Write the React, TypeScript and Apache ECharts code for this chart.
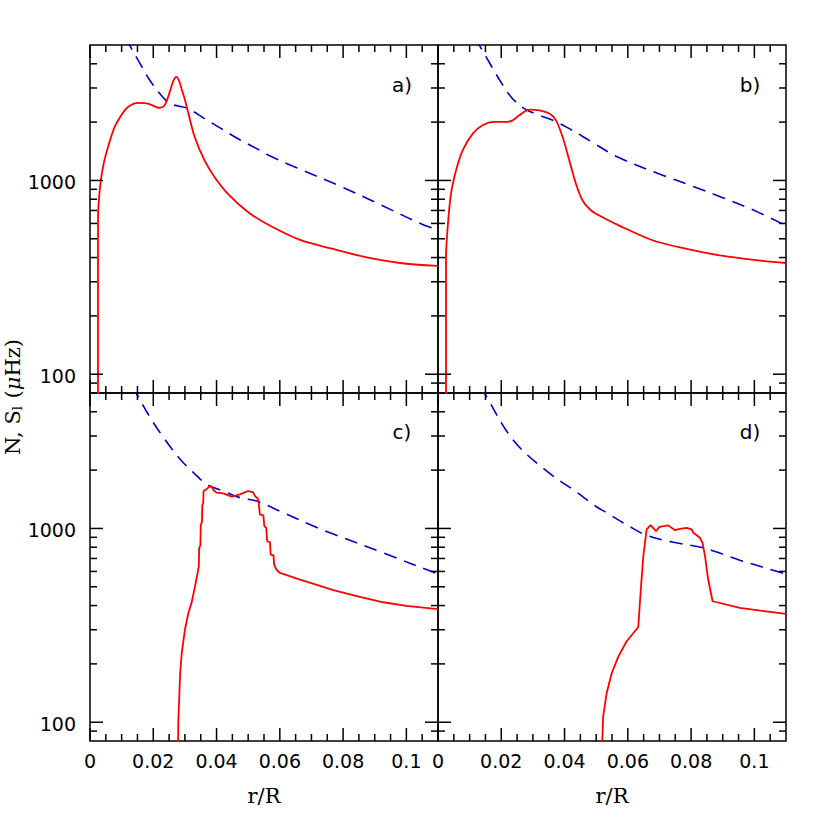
import React, { useEffect, useRef } from 'react';
import * as echarts from 'echarts';

// axis ranges, ticks and tick labels
const X_MIN = 0;
const X_MAX = 0.11;
const Y_MIN = 80;
const Y_MAX = 5000;
const X_TICKS_MAJOR = [0, 0.02, 0.04, 0.06, 0.08, 0.1];
const X_TICKS_MINOR = [0.005, 0.01, 0.015, 0.025, 0.03, 0.035, 0.045, 0.05, 0.055, 0.065, 0.07, 0.075, 0.085, 0.09, 0.095, 0.105];
const Y_TICKS_MAJOR = [100, 1000];
const Y_TICKS_MINOR = [90, 200, 300, 400, 500, 600, 700, 800, 900, 2000, 3000, 4000];
const X_LABELS = [0, 0.02, 0.04, 0.06, 0.08, 0.1];
const Y_LABELS = [100, 1000];
const PANEL_LABELS = ['a)', 'b)', 'c)', 'd)'];

// Panel a: N (solid red) and S_l (dashed blue), [r/R, muHz]
const N_A = [
  [0.00253, 10], [0.00253, 621], [0.00306, 888], [0.0041, 1172], [0.00569, 1486], [0.0078, 1888],
  [0.0099, 2170], [0.012, 2394], [0.0152, 2512], [0.0183, 2494], [0.022, 2366], [0.0236, 2443],
  [0.0247, 2700], [0.0256, 3000], [0.0264, 3280], [0.0273, 3420], [0.0282, 3250], [0.029, 2950],
  [0.0299, 2650], [0.031, 2255], [0.0331, 1675], [0.0362, 1269], [0.0394, 1040], [0.0436, 853],
  [0.05, 686], [0.0568, 585], [0.0664, 493], [0.0769, 443], [0.0875, 401], [0.098, 375], [0.11, 362],
];
const S_A = [
  [0.0115, 5450], [0.01254, 4990], [0.0152, 4180], [0.0189, 3289], [0.0225, 2752], [0.0252, 2494],
  [0.0278, 2423], [0.031, 2349], [0.0362, 2085], [0.0415, 1851], [0.0468, 1640], [0.0527, 1460],
  [0.0568, 1340], [0.0653, 1163], [0.079, 935], [0.0917, 751], [0.1059, 585], [0.11, 560],
];

// Panel b
const N_B = [
  [0.00253, 10], [0.00253, 401], [0.00306, 573], [0.0041, 853], [0.0057, 1126], [0.0078, 1430],
  [0.011, 1744], [0.0141, 1926], [0.0178, 2005], [0.0215, 2005], [0.0236, 2043], [0.0257, 2168],
  [0.0289, 2321], [0.032, 2302], [0.0352, 2213], [0.0373, 2043], [0.0394, 1675], [0.0415, 1269],
  [0.0436, 961], [0.0457, 788], [0.0484, 700], [0.052, 646], [0.0573, 585], [0.068, 490],
  [0.0786, 443], [0.0891, 410], [0.0997, 389], [0.11, 375],
];
const S_B = [
  [0.012, 5450], [0.01306, 4990], [0.0152, 4345], [0.0189, 3420], [0.0231, 2698], [0.0273, 2349],
  [0.032, 2168], [0.0363, 2043], [0.0415, 1851], [0.0478, 1610], [0.0568, 1320], [0.07, 1080],
  [0.08, 940], [0.09, 815], [0.1, 700], [0.11, 585],
];

// Panel c
const N_C = [
  [0.0276, 10], [0.0279, 99], [0.0285, 179], [0.029, 227], [0.03, 300], [0.0311, 366], [0.0321, 413],
  [0.0332, 503], [0.0341, 600], [0.0344, 640], [0.0345, 790], [0.0349, 820], [0.035, 1040],
  [0.0354, 1080], [0.0355, 1320], [0.0358, 1360], [0.0359, 1560], [0.0369, 1600], [0.0378, 1650],
  [0.0385, 1643], [0.039, 1580], [0.04, 1530], [0.0421, 1518], [0.0448, 1459], [0.0474, 1499],
  [0.05, 1560], [0.0515, 1540], [0.0522, 1469], [0.0532, 1413], [0.0537, 1181], [0.0548, 1167],
  [0.0551, 1028], [0.0557, 1008], [0.056, 859], [0.0569, 849], [0.0571, 733], [0.058, 727],
  [0.0582, 652], [0.059, 610], [0.06, 590], [0.0664, 545], [0.0727, 505], [0.0769, 480],
  [0.085, 445], [0.0927, 416], [0.1, 398], [0.11, 383],
];
const S_C = [
  [0.0135, 5450], [0.01476, 4935], [0.019, 3741], [0.0232, 2950], [0.0285, 2274], [0.0327, 1942],
  [0.0369, 1690], [0.0421, 1560], [0.0474, 1442], [0.0527, 1384], [0.0611, 1205], [0.0717, 1010],
  [0.0769, 935], [0.0927, 748], [0.109, 590], [0.11, 585],
];

// Panel d
const N_D = [
  [0.0515, 50], [0.0522, 107], [0.0533, 141], [0.0549, 179], [0.057, 218], [0.0596, 261],
  [0.0633, 310], [0.0641, 483], [0.0649, 719], [0.06595, 988], [0.0672, 1040], [0.0689, 968],
  [0.0699, 1016], [0.0712, 1028], [0.0728, 1037], [0.0749, 980], [0.0765, 996], [0.0786, 1008],
  [0.0802, 988], [0.0807, 950], [0.0818, 923], [0.0828, 895], [0.0836, 844], [0.0844, 719],
  [0.0854, 545], [0.0868, 421], [0.0954, 389], [0.11, 362],
];
const S_D = [
  [0.0135, 5450], [0.01486, 4935], [0.0238, 2850], [0.0343, 1980], [0.0438, 1540], [0.0502, 1290],
  [0.0533, 1205], [0.0607, 1020], [0.066, 920], [0.0744, 849], [0.0839, 795], [0.0902, 734],
  [0.0954, 686], [0.1086, 590], [0.11, 580],
];

const N_SERIES = [N_A, N_B, N_C, N_D];
const S_SERIES = [S_A, S_B, S_C, S_D];
const N_SMOOTH = [0.3, 0.3, 0, 0];

const SERIF = '"DejaVu Serif"';
const SANS = '"DejaVu Sans"';

export default function App() {
  const ref = useRef<HTMLDivElement>(null);
  useEffect(() => {
    if (!ref.current) return;
    const chart = echarts.init(ref.current, null, { renderer: 'svg' });

    const grids = [
      { left: 90, top: 45, width: 348, height: 348 },
      { left: 438, top: 45, width: 348, height: 348 },
      { left: 90, top: 393, width: 348, height: 348 },
      { left: 438, top: 393, width: 348, height: 348 },
    ].map((g) => ({ ...g, show: true, borderColor: '#000', borderWidth: 1.5, backgroundColor: 'transparent' }));

    const xAxes = grids.map((_, i) => ({
      type: 'value',
      gridIndex: i,
      min: X_MIN,
      max: X_MAX,
      interval: 0.02,
      axisLine: { show: false },
      axisTick: { show: false },
      splitLine: { show: false },
      axisLabel: { show: false },
      name: i >= 2 ? 'r/R' : '',
      nameLocation: 'middle',
      nameGap: 44,
      nameTextStyle: { color: '#000', fontFamily: SERIF, fontSize: 21 },
    }));

    const yAxes = grids.map((_, i) => ({
      type: 'log',
      logBase: 10,
      gridIndex: i,
      min: Y_MIN,
      max: Y_MAX,
      axisLine: { show: false },
      axisTick: { show: false },
      splitLine: { show: false },
      minorTick: { show: false },
      axisLabel: { show: false },
    }));

    const tickStyle = { stroke: '#000', lineWidth: 1.5 };
    const labelFont = `19px ${SANS}`;
    const renderTicks = (_params: any, api: any) => {
      const kind = api.value(2);
      if (kind === 4) {
        const x = api.value(0);
        const p = api.coord([x, Y_MIN]);
        return {
          type: 'text',
          x: p[0],
          y: p[1] + 20,
          style: { text: String(Math.round(x * 1000) / 1000), font: labelFont, fill: '#000', align: 'center', verticalAlign: 'middle' },
        };
      }
      if (kind === 5) {
        const y = api.value(1);
        const p = api.coord([X_MIN, y]);
        return {
          type: 'text',
          x: p[0] - 14,
          y: p[1] + 1.5,
          style: { text: String(Math.round(y)), font: labelFont, fill: '#000', align: 'right', verticalAlign: 'middle' },
        };
      }
      if (kind < 2) {
        const x = api.value(0);
        const p1 = api.coord([x, Y_MIN]);
        const p2 = api.coord([x, Y_MAX]);
        const len = kind === 0 ? 13 : 7;
        return {
          type: 'group',
          children: [
            { type: 'line', shape: { x1: p1[0], y1: p1[1], x2: p1[0], y2: p1[1] - len }, style: tickStyle },
            { type: 'line', shape: { x1: p2[0], y1: p2[1], x2: p2[0], y2: p2[1] + len }, style: tickStyle },
          ],
        };
      }
      const y = api.value(1);
      const p1 = api.coord([X_MIN, y]);
      const p2 = api.coord([X_MAX, y]);
      const len = kind === 2 ? 13 : 7;
      return {
        type: 'group',
        children: [
          { type: 'line', shape: { x1: p1[0], y1: p1[1], x2: p1[0] + len, y2: p1[1] }, style: tickStyle },
          { type: 'line', shape: { x1: p2[0], y1: p2[1], x2: p2[0] - len, y2: p2[1] }, style: tickStyle },
        ],
      };
    };

    const series: any[] = [];
    grids.forEach((_, i) => {
      const tickData: number[][] = [];
      X_TICKS_MAJOR.forEach((x) => tickData.push([x, 1000, 0]));
      X_TICKS_MINOR.forEach((x) => tickData.push([x, 1000, 1]));
      Y_TICKS_MAJOR.forEach((y) => tickData.push([0.05, y, 2]));
      Y_TICKS_MINOR.forEach((y) => tickData.push([0.05, y, 3]));
      if (i >= 2) X_LABELS.forEach((x) => tickData.push([x, 1000, 4]));
      if (i % 2 === 0) Y_LABELS.forEach((y) => tickData.push([0.05, y, 5]));

      series.push({
        type: 'line',
        xAxisIndex: i,
        yAxisIndex: i,
        data: S_SERIES[i],
        showSymbol: false,
        symbol: 'none',
        smooth: 0.35,
        lineStyle: { color: '#0000cc', width: 1.6, type: [13, 8] },
        z: 2,
      });
      series.push({
        type: 'line',
        xAxisIndex: i,
        yAxisIndex: i,
        data: N_SERIES[i],
        showSymbol: false,
        symbol: 'none',
        smooth: N_SMOOTH[i],
        lineStyle: { color: '#ff0000', width: 1.8 },
        z: 3,
      });
      series.push({
        type: 'custom',
        xAxisIndex: i,
        yAxisIndex: i,
        data: tickData,
        renderItem: renderTicks,
        silent: true,
        clip: false,
        z: 5,
      });
    });

    const labelPos = [
      [402, 85],
      [750, 85],
      [402, 432],
      [750, 432],
    ];

    const graphic: any[] = PANEL_LABELS.map((t, i) => ({
      type: 'text',
      x: labelPos[i][0],
      y: labelPos[i][1],
      style: { text: t, fill: '#000', font: `20px ${SANS}`, align: 'center', verticalAlign: 'middle' },
    }));
    graphic.push({
      type: 'text',
      x: 13,
      y: 397,
      rotation: Math.PI / 2,
      style: {
        text: '{a|N, S}{s|l}{a| (}{m|μ}{a|Hz)}',
        align: 'center',
        verticalAlign: 'middle',
        fill: '#000',
        rich: {
          a: { fontFamily: SERIF, fontSize: 21, fill: '#000' },
          s: { fontFamily: SERIF, fontSize: 13, fill: '#000', padding: [9, 1, 0, 0] },
          m: { fontFamily: SERIF, fontSize: 21, fontStyle: 'italic', fill: '#000' },
        },
      },
    });

    chart.setOption({
      animation: false,
      backgroundColor: '#fff',
      grid: grids,
      xAxis: xAxes,
      yAxis: yAxes,
      series,
      graphic,
    });

    return () => chart.dispose();
  }, []);

  return <div ref={ref} style={{ position: 'fixed', left: 0, top: 0, width: 830, height: 830 }} />;
}
